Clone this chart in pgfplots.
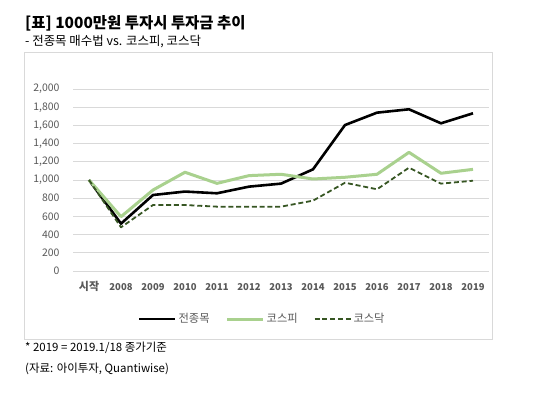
\documentclass[border=0pt]{standalone}
\usepackage{fontspec}
\setmainfont{Noto Sans CJK KR}
\usepackage{pgfplots}
\pgfplotsset{compat=1.18}
\definecolor{gridc}{HTML}{D9D9D9}
\definecolor{txtc}{HTML}{595959}
\definecolor{kospi}{HTML}{A9D18E}
\definecolor{kosdaq}{HTML}{375623}
\begin{document}
\begin{tikzpicture}
\path[fill=white] (0,0) rectangle (536bp,393bp);
\draw[gridc, line width=0.8bp] (24bp,54bp) rectangle (492bp,341bp);
\node[anchor=west, inner sep=0pt, font=\fontsize{15.5}{17}\selectfont\bfseries] at (25bp,370bp) {[표] 1000만원 투자시 투자금 추이};
\node[anchor=west, inner sep=0pt, font=\fontsize{12.5}{14}\selectfont] at (25bp,351bp) {- 전종목 매수법 vs. 코스피, 코스닥};
\node[anchor=west, inner sep=0pt, font=\fontsize{11.5}{13}\selectfont] at (25bp,45bp) {* 2019 = 2019.1/18 종가기준};
\node[anchor=west, inner sep=0pt, font=\fontsize{11.5}{13}\selectfont] at (25bp,24bp) {(자료: 아이투자, Quantiwise)};
\begin{axis}[
  at={(73bp,122bp)}, anchor=south west,
  scale only axis, width=416bp, height=182bp,
  xmin=-0.5, xmax=12.5, ymin=0, ymax=2000,
  axis line style={draw=none},
  ytick={0,200,...,2000},
  xtick={0,...,12},
  xticklabels={{\fontsize{11}{12}\selectfont 시작},2008,2009,2010,2011,2012,2013,2014,2015,2016,2017,2018,2019},
  major tick length=0pt,
  ymajorgrids, grid style={gridc, line width=0.8bp},
  /pgf/number format/assume math mode=true,
  yticklabel style={font=\fontsize{10.5}{12}\selectfont, text=txtc, xshift=-10bp, /pgf/number format/.cd, fixed, 1000 sep={,}},
  xticklabel style={font=\fontsize{9.5}{11}\selectfont\bfseries, text=txtc, anchor=base, yshift=-19.5bp},
  ytick style={draw=none}, xtick style={draw=none},
  legend columns=3,
  legend style={at={(0.455,-0.264)}, anchor=center, draw=none, fill=none,
    font=\fontsize{11.3}{13}\selectfont, text=txtc, inner sep=0pt,
    /tikz/every even column/.append style={column sep=14bp}},
  legend image code/.code={\draw[#1] (0bp,0bp) -- (36bp,0bp);},
]
\addplot[black, line width=2.6bp, line join=round] coordinates {
(0,1000)(1,520)(2,835)(3,873)(4,854)(5,927)(6,960)(7,1117)(8,1604)(9,1740)(10,1777)(11,1623)(12,1733)};
\addlegendentry{전종목}
\addplot[kospi, line width=3bp, line join=round] coordinates {
(0,1000)(1,597)(2,890)(3,1085)(4,963)(5,1048)(6,1063)(7,1011)(8,1030)(9,1063)(10,1304)(11,1074)(12,1117)};
\addlegendentry{코스피}
\addplot[kosdaq, line width=1.8bp, dash pattern=on 5bp off 2.8bp, line join=round] coordinates {
(0,1000)(1,480)(2,725)(3,725)(4,707)(5,705)(6,707)(7,773)(8,970)(9,898)(10,1135)(11,960)(12,992)};
\addlegendentry{코스닥}
\end{axis}
\end{tikzpicture}
\end{document}
